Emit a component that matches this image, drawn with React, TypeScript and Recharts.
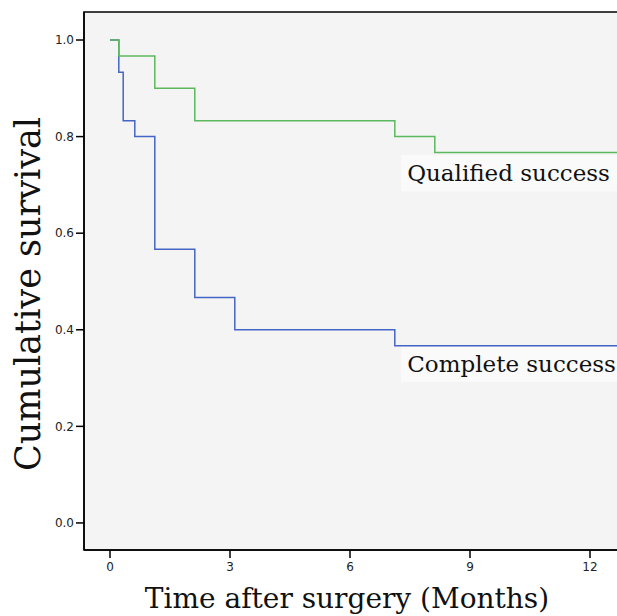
import React from "react";
import {
  LineChart, Line, XAxis, YAxis, ReferenceArea,
} from "recharts";

// Kaplan-Meier steps (months, cumulative survival)
const qualifiedTime = [0, 0.22, 1.12, 2.12, 7.12, 8.12, 13.25];
const qualifiedSurv = [1.0, 0.967, 0.9, 0.833, 0.8, 0.767, 0.767];

const completeTime = [0, 0.22, 0.33, 0.62, 1.12, 2.12, 3.12, 7.12, 13.25];
const completeSurv = [1.0, 0.933, 0.833, 0.8, 0.567, 0.467, 0.4, 0.367, 0.367];

const xTicks = [0, 3, 6, 9, 12];
const yTicks = [0, 0.2, 0.4, 0.6, 0.8, 1.0];

const X_DOMAIN: [number, number] = [-0.65, 13.25];
const Y_DOMAIN: [number, number] = [-0.056, 1.058];

const qualified = qualifiedTime.map((t, i) => ({ t, s: qualifiedSurv[i] }));
const complete = completeTime.map((t, i) => ({ t, s: completeSurv[i] }));

const GREEN = "#5cb85c";
const BLUE = "#4565c6";
const SERIF = "'DejaVu Serif', serif";
const SANS = "'DejaVu Sans', sans-serif";

export default function App() {
  return (
    <div style={{ position: "absolute", left: 0, top: 0, width: 617, height: 616, overflow: "hidden", background: "#fff" }}>
      <LineChart width={650} height={616} margin={{ top: 12, right: 10, bottom: 0, left: 0 }}>
        {/* plot frame + light grey panel */}
        <ReferenceArea
          x1={X_DOMAIN[0]} x2={X_DOMAIN[1]} y1={Y_DOMAIN[0]} y2={Y_DOMAIN[1]}
          fill="#f4f4f4" fillOpacity={1} stroke="#000" strokeWidth={1.5} ifOverflow="visible"
        />
        {/* faint boxes behind the curve labels */}
        <ReferenceArea
          x1={7.28} x2={X_DOMAIN[1]} y1={0.687} y2={0.762}
          fill="#fafafa" fillOpacity={1} stroke="none"
          label={{ value: "Qualified success", position: "insideLeft", offset: 6, fill: "#111", fontSize: 23, fontFamily: SERIF }}
        />
        <ReferenceArea
          x1={7.28} x2={X_DOMAIN[1]} y1={0.292} y2={0.365}
          fill="#fafafa" fillOpacity={1} stroke="none"
          label={{ value: "Complete success", position: "insideLeft", offset: 6, fill: "#111", fontSize: 23, fontFamily: SERIF }}
        />
        <XAxis
          type="number" dataKey="t" domain={X_DOMAIN} ticks={xTicks} allowDataOverflow
          height={66} tickSize={8} tickMargin={4}
          axisLine={{ stroke: "#000", strokeWidth: 1.5 }}
          tickLine={{ stroke: "#000", strokeWidth: 1.5 }}
          tick={{ fontSize: 12, fill: "#222", fontFamily: SANS }}
          label={{ value: "Time after surgery (Months)", position: "insideBottom", offset: 8, dx: -15, fill: "#111", fontSize: 28, fontFamily: SERIF }}
        />
        <YAxis
          type="number" domain={Y_DOMAIN} ticks={yTicks} allowDataOverflow
          width={84} tickSize={8} tickMargin={2}
          tickFormatter={(v: number) => v.toFixed(1)}
          axisLine={{ stroke: "#000", strokeWidth: 1.5 }}
          tickLine={{ stroke: "#000", strokeWidth: 1.5 }}
          tick={{ fontSize: 12, fill: "#222", fontFamily: SANS }}
          label={{ value: "Cumulative survival", angle: -90, position: "center", dx: -14, dy: 13, fill: "#111", fontSize: 35, fontFamily: SERIF }}
        />
        <Line data={complete} dataKey="s" type="stepAfter" stroke={BLUE} strokeWidth={1.5} dot={false} activeDot={false} isAnimationActive={false} />
        <Line data={qualified} dataKey="s" type="stepAfter" stroke={GREEN} strokeWidth={1.5} dot={false} activeDot={false} isAnimationActive={false} />
      </LineChart>
    </div>
  );
}
